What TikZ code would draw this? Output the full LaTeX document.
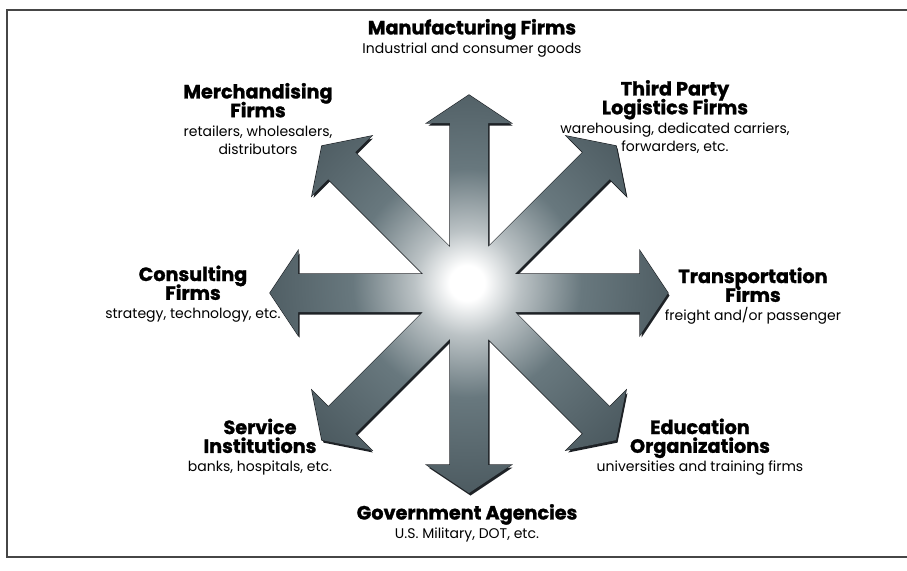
\documentclass[tikz,border=0pt]{standalone}
\usepackage{fontspec}
\setmainfont{Poppins}[BoldFeatures={FakeBold=1.3}]
\definecolor{steel}{RGB}{104,120,126}
\definecolor{steeldark}{RGB}{74,88,94}
\definecolor{armshade}{RGB}{30,34,38}
\definecolor{framegray}{RGB}{70,70,70}
\pgfdeclareradialshading{starglow}{\pgfpoint{0bp}{0bp}}{%
  color(0bp)=(white); color(2bp)=(white); color(6bp)=(white!55!steel);
  color(13bp)=(steel); color(25bp)=(steeldark); color(50bp)=(steeldark)}
\newcommand\hd{\fontsize{9.6}{9.4}\selectfont\bfseries\lineskiplimit=-6pt\relax}
\newcommand\sub{\fontsize{7.0}{9.4}\selectfont\mdseries\lineskiplimit=-6pt\relax}
% one arm of the star: angle, length (in px)
\newcommand\arm[2]{{[rotate=#1] (0,-19) -- (#2-28,-19) -- (#2-28,-42) -- (#2,0)
  -- (#2-28,42) -- (#2-28,19) -- (0,19) -- cycle}}
\newcommand\arms{\arm{0}{199} \arm{90}{198} \arm{180}{199} \arm{270}{200}
  \arm{45}{208} \arm{135}{208} \arm{225}{208} \arm{315}{208}}

\begin{document}
\begin{tikzpicture}[x=0.5pt, y=-0.5pt, line join=miter,
  firm/.style={align=center, inner sep=0pt, font=\sub}]
  \useasboundingbox (0,0) rectangle (907,570);
  % frame
  \draw[framegray, line width=1.3pt] (907,10) -- (7,10) -- (7,557) -- (907,557);

  % star of arrows
  \coordinate (hub) at (469,293);
  \begin{scope}[shift={(hub)}]
    \fill[armshade, shift={(1.5,2.5)}] \arms;
    \draw[armshade, line width=0.6pt] \arms;
    \begin{scope}
      \clip \arms;
      \shade[shading=starglow] (-2,-10) circle (220);
    \end{scope}
  \end{scope}

  % labels
  \node[firm] (manuf) at (472,38) {\hd Manufacturing Firms\\\sub Industrial and consumer goods};
  \node[firm] (merch) at (258,119) {\hd Merchandising\\\hd Firms\\\sub retailers, wholesalers,\\distributors};
  \node[firm] (tpl) at (675,117) {\hd Third Party\\\hd Logistics Firms\\\sub warehousing, dedicated carriers,\\forwarders, etc.};
  \node[firm] (consult) at (193,294) {\hd Consulting\\\hd Firms\\\sub strategy, technology, etc.};
  \node[firm] (transp) at (753,296) {\hd Transportation\\\hd Firms\\\sub freight and/or passenger};
  \node[firm] (service) at (260,447) {\hd Service\\\hd Institutions\\\sub banks, hospitals, etc.};
  \node[firm] (educ) at (700,447) {\hd Education\\\hd Organizations\\\sub universities and training firms};
  \node[firm] (govt) at (467,523) {\hd Government Agencies\\\sub U.S. Military, DOT, etc.};
\end{tikzpicture}
\end{document}
